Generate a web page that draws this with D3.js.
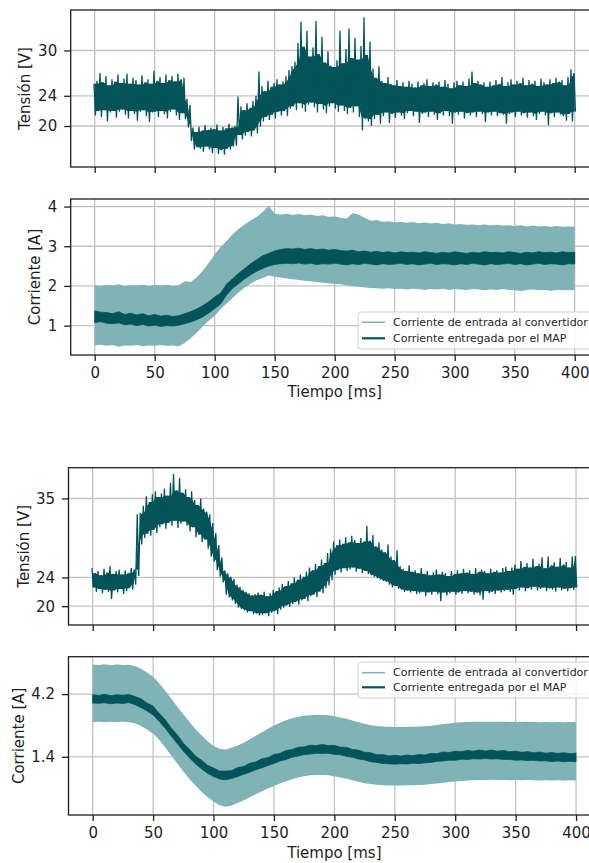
<!DOCTYPE html>
<html>
<head>
<meta charset="utf-8">
<script src="https://cdn.jsdelivr.net/npm/d3@7"></script>
<style>
  body { margin: 0; background: #fff; }
  text { font-family: "DejaVu Sans", sans-serif; }
</style>
</head>
<body>
<div id="chart"></div>
<script>
const width = 589, height = 863;
const darkTeal = '#03545a', lightTeal = '#80b3b5', ink = '#1f1f1f';

// sample grids (ms)
const tVolt = d3.range(0, 401, 2.5);   // 161 samples
const tCurr = d3.range(0, 401, 5);     // 81 samples

const xTicks = [0, 50, 100, 150, 200, 250, 300, 350, 400];
const legendLabels = ['Corriente de entrada al convertidor', 'Corriente entregada por el MAP'];

// ---- ensayo 1 : tension (V), envelope per sample
const v1High = [
  25.6,26.0,27.0,25.8,26.6,25.4,26.2,25.9,26.8,25.7,
  26.3,26.9,25.6,26.4,26.1,25.5,26.7,25.8,26.2,25.6,
  27.3,26.0,26.5,25.7,26.8,26.1,26.6,25.9,26.9,26.2,
  26.4,23.6,22.8,19.8,19.2,19.9,19.4,20.1,19.5,19.8,
  19.6,20.2,19.4,19.9,19.7,20.3,19.8,20.0,23.9,22.6,
  22.1,23.0,22.4,23.3,24.0,27.2,25.3,24.6,26.0,25.2,
  25.7,26.2,25.5,25.9,26.6,27.4,27.9,28.5,31.0,33.8,
  30.5,32.6,29.2,30.4,33.9,29.5,31.8,28.4,29.9,28.0,
  27.8,28.7,32.6,28.3,30.2,32.9,29.0,31.7,28.8,30.6,
  34.4,29.4,31.2,27.6,26.4,27.9,26.0,25.7,26.5,25.6,
  25.4,26.1,25.3,25.8,25.2,26.0,25.6,25.1,25.9,25.4,
  25.7,26.2,25.3,25.8,25.5,25.9,25.2,26.1,25.6,25.0,
  25.8,26.0,25.4,25.9,25.3,26.3,27.2,25.7,26.0,25.5,
  25.8,25.2,25.9,25.4,26.1,25.6,26.5,25.3,25.8,26.2,
  25.5,26.0,25.7,26.4,25.4,26.1,25.6,26.0,25.3,26.3,
  25.8,25.5,26.2,25.7,26.4,25.9,26.1,25.4,26.5,27.5,
  27.0
];
const v1Low = [
  21.4,22.0,21.2,22.1,20.6,21.8,22.0,21.1,21.9,22.2,
  21.5,21.0,22.0,21.6,20.7,21.9,22.1,21.3,20.5,21.8,
  21.9,21.2,22.0,21.6,21.0,21.9,22.2,21.4,20.8,21.7,
  20.9,19.8,18.0,16.9,17.2,17.0,16.6,17.3,16.9,16.4,
  17.1,16.3,16.8,16.2,17.0,16.9,17.3,17.4,18.8,18.2,
  18.7,19.2,18.6,19.4,19.0,19.9,20.6,21.2,20.8,21.5,
  21.0,21.9,21.4,22.0,21.3,22.3,22.6,22.1,23.0,22.4,
  21.9,22.8,23.1,22.5,21.8,22.9,22.2,21.7,22.6,23.0,
  22.3,21.9,22.7,22.0,21.6,22.4,21.8,22.6,21.2,19.4,
  21.0,20.6,20.0,20.9,21.5,20.3,21.3,21.8,20.4,21.6,
  21.1,21.8,21.4,20.9,21.7,22.0,21.3,21.9,20.4,21.6,
  21.8,21.2,21.9,21.5,20.8,21.7,21.4,22.0,21.3,20.3,
  21.8,21.5,21.9,21.0,21.7,21.4,21.8,21.2,21.9,21.6,
  20.5,21.8,21.4,21.9,21.3,21.7,21.5,20.3,21.6,21.8,
  21.2,21.9,21.4,21.7,21.1,21.8,21.3,20.8,21.6,21.9,
  21.4,20.1,21.7,21.2,21.8,21.5,21.3,20.7,21.6,20.6,
  21.9
];

// ---- ensayo 1 : corrientes (A)
const iIn1High = [
  2.02,2.00,2.03,2.01,2.04,2.00,2.02,2.01,2.03,2.00,
  2.02,2.01,2.03,2.00,2.02,2.12,2.10,2.22,2.38,2.58,
  2.80,2.98,3.13,3.30,3.44,3.55,3.65,3.74,3.86,4.02,
  3.82,3.80,3.82,3.79,3.81,3.78,3.80,3.76,3.78,3.74,
  3.75,3.72,3.70,3.84,3.80,3.72,3.64,3.66,3.62,3.63,
  3.60,3.62,3.59,3.61,3.58,3.60,3.57,3.59,3.56,3.58,
  3.55,3.56,3.54,3.55,3.53,3.55,3.52,3.54,3.52,3.53,
  3.51,3.53,3.50,3.52,3.50,3.51,3.49,3.51,3.49,3.50,
  3.49
];
const iIn1Low = [
  0.50,0.52,0.49,0.51,0.47,0.50,0.49,0.51,0.48,0.50,
  0.49,0.51,0.49,0.50,0.48,0.56,0.68,0.82,0.98,1.12,
  1.25,1.42,1.56,1.70,1.84,1.96,2.06,2.14,2.20,2.26,
  2.23,2.21,2.19,2.17,2.15,2.13,2.12,2.10,2.08,2.07,
  2.05,2.04,2.02,2.00,1.98,1.96,1.95,1.94,1.93,1.94,
  1.92,1.93,1.91,1.93,1.92,1.90,1.92,1.91,1.93,1.90,
  1.92,1.91,1.90,1.92,1.91,1.89,1.91,1.90,1.92,1.90,
  1.89,1.87,1.90,1.91,1.89,1.90,1.88,1.90,1.89,1.90,
  1.89
];
const iMap1High = [
  1.37,1.34,1.33,1.30,1.35,1.28,1.31,1.27,1.30,1.25,
  1.28,1.24,1.26,1.23,1.25,1.30,1.35,1.42,1.50,1.60,
  1.72,1.82,2.05,2.18,2.32,2.44,2.56,2.66,2.76,2.82,
  2.88,2.92,2.94,2.93,2.95,2.92,2.94,2.91,2.93,2.90,
  2.92,2.89,2.88,2.90,2.86,2.88,2.85,2.87,2.84,2.86,
  2.83,2.86,2.84,2.85,2.83,2.86,2.84,2.82,2.85,2.83,
  2.86,2.84,2.82,2.85,2.83,2.86,2.84,2.85,2.83,2.86,
  2.84,2.82,2.85,2.83,2.86,2.84,2.85,2.83,2.86,2.84,
  2.85
];
const iMap1Low = [
  1.08,1.10,1.06,1.05,1.07,1.02,1.04,1.00,1.03,0.99,
  1.01,0.98,1.00,0.99,1.01,1.05,1.09,1.15,1.22,1.32,
  1.43,1.55,1.78,1.94,2.06,2.18,2.28,2.37,2.44,2.50,
  2.54,2.56,2.57,2.56,2.58,2.55,2.57,2.54,2.56,2.55,
  2.57,2.55,2.53,2.56,2.54,2.57,2.55,2.53,2.56,2.54,
  2.55,2.57,2.54,2.56,2.53,2.55,2.57,2.54,2.56,2.55,
  2.53,2.56,2.54,2.57,2.55,2.53,2.56,2.54,2.55,2.57,
  2.54,2.56,2.53,2.55,2.57,2.54,2.56,2.55,2.53,2.56,
  2.55
];

// ---- ensayo 2 : tension (V)
const v2High = [
  25.3,24.6,24.9,24.3,25.2,24.7,25.6,24.5,24.9,25.1,
  24.4,25.0,24.6,25.3,25.1,32.8,33.0,34.0,35.3,34.5,
  35.6,36.0,35.2,35.7,36.4,35.4,37.2,38.4,36.1,37.9,
  35.8,36.3,35.2,36.0,34.8,34.1,35.0,33.6,33.2,32.8,
  31.6,30.2,28.5,26.8,25.0,24.6,24.1,23.8,23.0,22.7,
  22.3,22.0,21.8,21.5,21.7,21.9,21.6,22.0,21.4,21.8,
  22.3,22.1,22.6,23.1,22.8,23.5,23.2,24.0,23.7,24.4,
  24.1,24.8,25.4,25.0,25.9,25.6,26.5,26.0,27.4,28.0,
  29.0,28.5,29.3,28.7,29.6,28.9,29.8,29.2,28.8,29.5,
  29.0,31.2,29.1,29.9,28.3,28.9,27.9,27.5,28.6,26.9,
  26.4,27.8,25.6,25.2,24.9,25.7,24.8,25.0,24.6,25.3,
  24.5,24.9,24.3,24.7,25.1,24.4,24.8,24.6,24.2,24.9,
  24.5,25.0,24.6,25.2,24.7,25.0,24.5,25.3,24.8,25.1,
  24.9,24.6,25.2,24.8,25.0,24.7,25.3,25.5,24.9,25.4,
  25.8,25.2,26.3,25.5,26.0,25.4,26.6,25.6,25.9,26.8,
  25.3,26.9,25.7,26.1,25.5,26.7,25.8,26.2,25.4,26.9,
  27.0
];
const v2Low = [
  22.6,22.0,22.4,21.8,22.3,22.0,21.0,22.2,21.9,22.4,
  21.7,22.1,22.5,22.3,23.0,24.2,28.6,29.5,30.1,29.8,
  30.6,30.2,31.0,31.4,30.8,31.6,31.2,31.9,30.9,31.5,
  31.8,31.2,30.4,31.0,29.6,30.0,28.9,29.3,28.0,26.9,
  26.2,25.0,24.1,23.3,21.6,21.2,20.8,20.3,19.8,19.6,
  19.4,19.1,19.3,18.9,19.0,18.7,18.8,19.0,18.6,19.1,
  19.3,18.9,19.5,19.8,20.1,19.9,20.3,20.6,20.2,20.8,
  21.0,20.7,21.4,21.6,21.3,22.0,21.8,22.5,22.9,23.6,
  24.4,25.0,24.7,25.3,24.9,25.1,25.4,24.8,25.2,24.6,
  24.9,24.5,24.3,24.1,23.9,23.7,23.5,23.4,23.0,22.6,
  22.8,22.4,22.3,22.0,22.2,21.9,22.1,21.7,21.8,22.0,
  21.4,21.9,21.6,22.0,21.7,20.7,21.9,21.5,21.8,22.0,
  21.6,21.9,21.7,22.1,21.8,22.0,21.6,21.9,21.5,20.9,
  22.1,21.8,22.0,21.7,22.2,21.9,22.1,22.3,22.0,21.6,
  22.4,22.2,22.6,22.1,22.5,22.3,22.7,22.2,22.4,22.6,
  22.1,22.5,22.3,22.0,22.6,22.2,22.4,22.1,22.5,22.3,
  22.6
];

// ---- ensayo 2 : corrientes (A)
const iIn2High = [
  5.52,5.50,5.53,5.49,5.52,5.50,5.51,5.45,5.33,5.16,
  4.97,4.68,4.35,4.00,3.64,3.30,2.96,2.64,2.36,2.10,
  1.88,1.76,1.73,1.80,1.90,2.03,2.18,2.34,2.50,2.65,
  2.80,2.92,3.03,3.12,3.19,3.23,3.26,3.28,3.27,3.25,
  3.21,3.16,3.10,3.02,2.94,2.87,2.81,2.77,2.75,2.74,
  2.73,2.73,2.74,2.74,2.75,2.76,2.79,2.82,2.86,2.89,
  2.92,2.94,2.95,2.96,2.96,2.97,2.96,2.97,2.96,2.95,
  2.96,2.95,2.96,2.95,2.94,2.95,2.94,2.95,2.94,2.95,
  2.94
];
const iIn2Low = [
  2.95,2.97,2.94,2.96,2.95,2.97,2.94,2.90,2.78,2.62,
  2.44,2.16,1.82,1.46,1.10,0.74,0.42,0.12,-0.16,-0.40,
  -0.60,-0.76,-0.83,-0.78,-0.66,-0.54,-0.41,-0.27,-0.14,-0.02,
  0.10,0.21,0.31,0.40,0.47,0.53,0.57,0.59,0.59,0.57,
  0.53,0.48,0.42,0.35,0.28,0.22,0.18,0.15,0.13,0.12,
  0.12,0.12,0.13,0.13,0.14,0.15,0.18,0.21,0.24,0.27,
  0.30,0.32,0.34,0.35,0.36,0.36,0.37,0.36,0.36,0.35,
  0.36,0.35,0.36,0.35,0.34,0.35,0.34,0.35,0.34,0.35,
  0.34
];
const iMap2High = [
  4.18,4.14,4.19,4.13,4.17,4.15,4.18,4.09,3.99,3.80,
  3.66,3.34,3.06,2.68,2.38,2.01,1.74,1.44,1.25,1.02,
  0.90,0.76,0.76,0.78,0.92,0.97,1.11,1.17,1.31,1.36,
  1.50,1.55,1.68,1.72,1.83,1.84,1.92,1.90,1.95,1.90,
  1.91,1.83,1.82,1.72,1.70,1.60,1.58,1.49,1.50,1.44,
  1.47,1.43,1.48,1.45,1.50,1.48,1.55,1.54,1.61,1.59,
  1.65,1.63,1.68,1.65,1.70,1.66,1.70,1.65,1.68,1.62,
  1.65,1.60,1.63,1.58,1.61,1.56,1.59,1.55,1.58,1.54,
  1.56
];
const iMap2Low = [
  3.80,3.79,3.81,3.77,3.80,3.78,3.82,3.73,3.60,3.45,
  3.27,2.99,2.68,2.33,1.99,1.66,1.36,1.09,0.87,0.67,
  0.52,0.41,0.37,0.43,0.52,0.62,0.71,0.82,0.91,1.01,
  1.10,1.21,1.28,1.38,1.43,1.50,1.52,1.56,1.55,1.56,
  1.51,1.49,1.42,1.38,1.30,1.26,1.18,1.15,1.10,1.09,
  1.07,1.09,1.08,1.11,1.10,1.13,1.15,1.20,1.21,1.25,
  1.25,1.29,1.28,1.31,1.30,1.32,1.30,1.31,1.28,1.28,
  1.25,1.26,1.23,1.24,1.21,1.22,1.19,1.21,1.18,1.20,
  1.18
];

const v1Ticks = [20, 24, 30];
const i1Ticks = [1, 2, 3, 4];
const v2Ticks = [20, 24, 35];
const i2Ticks = [1.4, 4.2];

const svg = d3.select('#chart').append('svg')
    .attr('width', width)
    .attr('height', height);

let clipId = 0;

function makePanel(cfg) {
    const x = d3.scaleLinear().domain([-20, 420]).range(cfg.xRange);
    const y = d3.scaleLinear().domain(cfg.yDomain).range([cfg.bottom, cfg.top]);
    const g = svg.append('g');
    const id = 'clip' + (clipId++);
    g.append('clipPath').attr('id', id).append('rect')
        .attr('x', cfg.xRange[0]).attr('y', cfg.top)
        .attr('width', cfg.xRange[1] - cfg.xRange[0])
        .attr('height', cfg.bottom - cfg.top);

    // grid below the data
    const grid = g.append('g').attr('stroke', '#c4c4c4').attr('stroke-width', 1.3);
    grid.selectAll('.gx').data(xTicks).join('line')
        .attr('x1', d => x(d)).attr('x2', d => x(d))
        .attr('y1', cfg.top).attr('y2', cfg.bottom);
    grid.selectAll('.gy').data(cfg.yTicks).join('line')
        .attr('x1', cfg.xRange[0]).attr('x2', cfg.xRange[1])
        .attr('y1', d => y(d)).attr('y2', d => y(d));

    const plot = g.append('g').attr('clip-path', `url(#${id})`);
    const axes = g.append('g');

    // x axis
    const xAxis = d3.axisBottom(x).tickValues(xTicks).tickSize(6).tickPadding(6);
    if (!cfg.xLabels) xAxis.tickFormat('');
    axes.append('g').attr('transform', `translate(0,${cfg.bottom})`).call(xAxis)
        .call(a => a.select('.domain').remove());

    // y axis
    const yAxis = d3.axisLeft(y).tickValues(cfg.yTicks).tickSize(6.5).tickPadding(7)
        .tickFormat(d => String(d));
    axes.append('g').attr('transform', `translate(${cfg.xRange[0]},0)`).call(yAxis)
        .call(a => a.select('.domain').remove());

    axes.selectAll('.tick line').attr('stroke', ink).attr('stroke-width', 1.3);
    axes.selectAll('.tick text').attr('fill', ink).style('font-size', '15px');

    // spines
    axes.append('rect')
        .attr('x', cfg.xRange[0]).attr('y', cfg.top)
        .attr('width', cfg.xRange[1] - cfg.xRange[0])
        .attr('height', cfg.bottom - cfg.top)
        .attr('fill', 'none').attr('stroke', ink).attr('stroke-width', 1.3);

    axes.append('text')
        .attr('transform', `translate(${cfg.labelX},${(cfg.top + cfg.bottom) / 2}) rotate(-90)`)
        .attr('text-anchor', 'middle').attr('dominant-baseline', 'central')
        .attr('fill', ink).style('font-size', '15px')
        .text(cfg.yLabel);

    if (cfg.xLabels) {
        axes.append('text')
            .attr('x', (cfg.xRange[0] + cfg.xRange[1]) / 2)
            .attr('y', cfg.xTitleY)
            .attr('text-anchor', 'middle').attr('dominant-baseline', 'central')
            .attr('fill', ink).style('font-size', '15px')
            .text('Tiempo [ms]');
    }
    return { x, y, plot, axes };
}

function band(p, t, hi, lo, curve) {
    return d3.area()
        .x((d, i) => p.x(t[i]))
        .y0((d, i) => p.y(lo[i]))
        .y1((d, i) => p.y(hi[i]))
        .curve(curve)(hi);
}

// noisy voltage: solid core (envelope of neighbouring samples) plus a
// zig-zag trace between each sample's high and low value for the spikes
function drawVoltage(p, hi, lo) {
    const n = hi.length;
    const coreHi = hi.map((v, i) => Math.min(v, hi[Math.max(i - 1, 0)], hi[Math.min(i + 1, n - 1)]));
    const coreLo = lo.map((v, i) => Math.max(v, lo[Math.max(i - 1, 0)], lo[Math.min(i + 1, n - 1)]));
    p.plot.append('path').attr('d', band(p, tVolt, coreHi, coreLo, d3.curveLinear))
        .attr('fill', darkTeal);

    const trace = [];
    tVolt.forEach((t, i) => {
        trace.push([t - 0.6, hi[i]]);
        trace.push([t + 0.6, lo[i]]);
    });
    const line = d3.line().x(d => p.x(d[0])).y(d => p.y(d[1]));
    p.plot.append('path').attr('d', line(trace))
        .attr('fill', 'none').attr('stroke', darkTeal).attr('stroke-width', 1.3)
        .attr('stroke-linejoin', 'bevel');
}

function drawCurrent(p, inHi, inLo, mapHi, mapLo) {
    p.plot.append('path').attr('d', band(p, tCurr, inHi, inLo, d3.curveLinear))
        .attr('fill', lightTeal);
    p.plot.append('path').attr('d', band(p, tCurr, mapHi, mapLo, d3.curveLinear))
        .attr('fill', darkTeal).attr('stroke', darkTeal).attr('stroke-width', 0.8);
}

function drawLegend(p, top, h, rowY) {
    const lg = p.axes.append('g');
    lg.append('rect')
        .attr('x', 358).attr('y', top).attr('width', 260).attr('height', h)
        .attr('rx', 3).attr('fill', '#fff').attr('fill-opacity', 0.85)
        .attr('stroke', '#d0d0d0').attr('stroke-width', 1);
    const colors = [lightTeal, darkTeal];
    const widths = [1.6, 2.2];
    legendLabels.forEach((label, i) => {
        lg.append('line')
            .attr('x1', 362).attr('x2', 385).attr('y1', rowY[i]).attr('y2', rowY[i])
            .attr('stroke', colors[i]).attr('stroke-width', widths[i]);
        lg.append('text')
            .attr('x', 393).attr('y', rowY[i])
            .attr('dominant-baseline', 'central')
            .attr('fill', ink).style('font-size', '11px')
            .text(label);
    });
}

// ----- figura superior
const p1 = makePanel({ xRange: [70.7, 598.7], top: 10, bottom: 167,
    yDomain: [14.57, 35.36], yTicks: v1Ticks, yLabel: 'Tensión [V]', labelX: 25 });
drawVoltage(p1, v1High, v1Low);

const p2 = makePanel({ xRange: [70.7, 598.7], top: 199, bottom: 355,
    yDomain: [0.26, 4.19], yTicks: i1Ticks, yLabel: 'Corriente [A]', labelX: 35,
    xLabels: true, xTitleY: 392 });
drawCurrent(p2, iIn1High, iIn1Low, iMap1High, iMap1Low);
drawLegend(p2, 312, 37, [322.3, 338.3]);

// ----- figura inferior
const p3 = makePanel({ xRange: [68.5, 600.2], top: 467.7, bottom: 625,
    yDomain: [17.38, 39.29], yTicks: v2Ticks, yLabel: 'Tensión [V]', labelX: 24 });
drawVoltage(p3, v2High, v2Low);

const p4 = makePanel({ xRange: [68.5, 600.2], top: 656.7, bottom: 815,
    yDomain: [-1.20, 5.87], yTicks: i2Ticks, yLabel: 'Corriente [A]', labelX: 18.5,
    xLabels: true, xTitleY: 853 });
drawCurrent(p4, iIn2High, iIn2Low, iMap2High, iMap2Low);
drawLegend(p4, 662, 36, [672.7, 687.3]);
</script>
</body>
</html>
